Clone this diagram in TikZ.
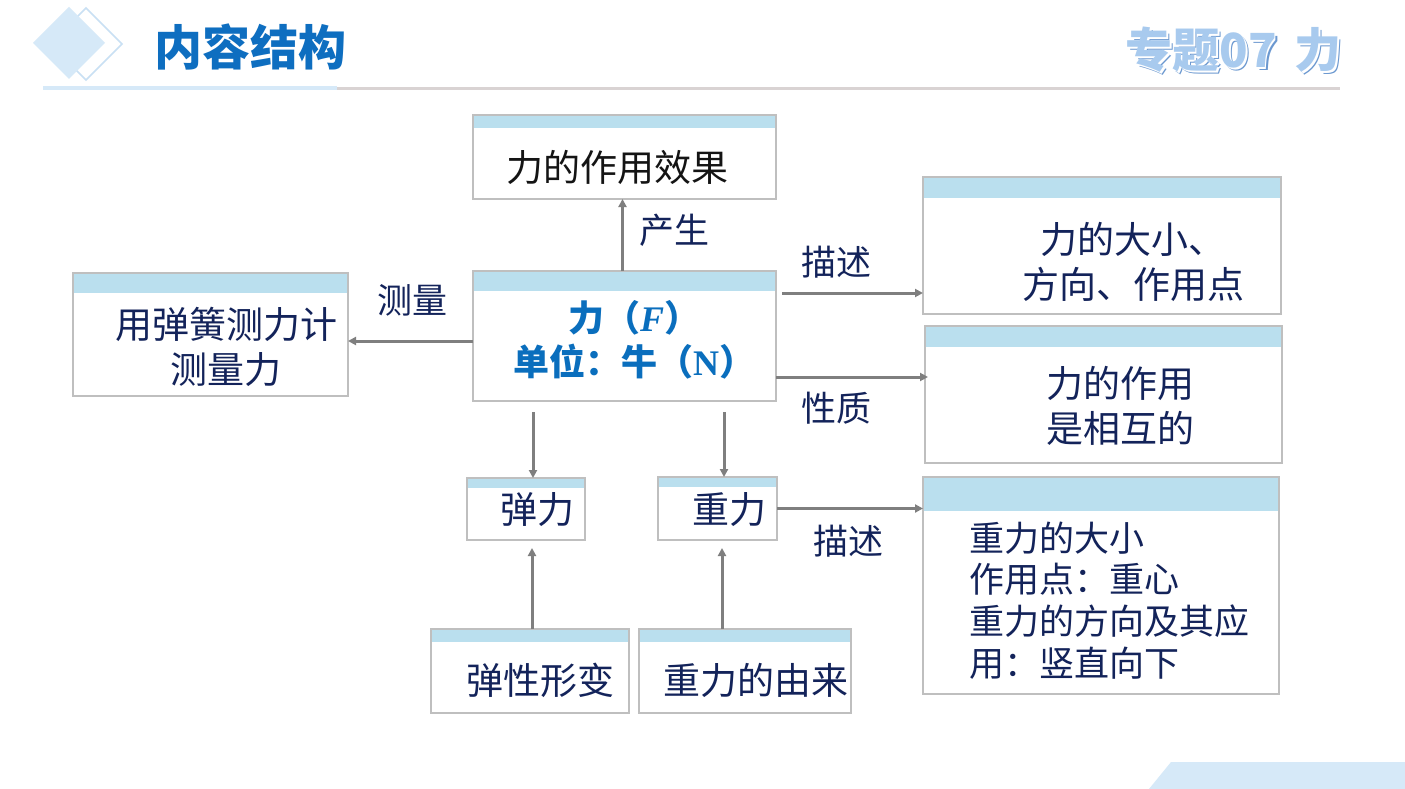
\documentclass[tikz,border=0pt]{standalone}
\usepackage{fontspec}
\setmainfont{Noto Sans CJK SC}
\newfontfamily\serifbf{Liberation Serif}
\usetikzlibrary{arrows.meta,calc}
\definecolor{navy}{HTML}{13235A}
\definecolor{hdr}{HTML}{BADFEE}
\definecolor{bord}{HTML}{BFBFBF}
\definecolor{arrg}{HTML}{7F7F7F}
\definecolor{titleblue}{HTML}{0E6EC0}
\definecolor{lightdeco}{HTML}{D6E9F8}
\definecolor{decoline}{HTML}{C9E0F4}
\definecolor{grayline}{HTML}{D9D3D3}
\definecolor{subblue}{HTML}{A8CAEE}
\definecolor{subshadow}{HTML}{6B98D0}
\definecolor{boldblue}{HTML}{0A6EBD}
\begin{document}
\begin{tikzpicture}[x=1pt,y=-1pt,
  card/.style n args={3}{draw=bord, line width=2.2pt, minimum width=#1pt, minimum height=#2pt,
    inner sep=0pt, outer sep=0pt,
    path picture={\fill[hdr] (path picture bounding box.north west) rectangle ([yshift=-#3pt]path picture bounding box.north east);}},
  txt/.style={text=navy, inner sep=0pt, align=center, font=\fontsize{37pt}{45pt}\selectfont},
  lbl/.style={text=navy, inner sep=0pt, font=\fontsize{35pt}{42pt}\selectfont},
  arr/.style={draw=arrg, line width=3pt, -{Triangle[length=8pt,width=8pt]}},
  sub/.style={inner sep=0pt, font=\fontsize{47pt}{50pt}\selectfont\bfseries}
]
\useasboundingbox (0,0) rectangle (1405,789);
\fill[white] (0,0) rectangle (1405,789);

% header decoration
\draw[decoline, line width=1.5pt] (50,44) -- (86,8) -- (122,44) -- (86,80) -- cycle;
\fill[lightdeco] (33,43) -- (69,7) -- (105,43) -- (69,79) -- cycle;
\node[inner sep=0pt, text=titleblue, font=\fontsize{48pt}{50pt}\selectfont\bfseries] (title) at (250,47) {内容结构};
\fill[lightdeco] (43,86) rectangle (337,90.5);
\fill[grayline] (337,87) rectangle (1340,90);
\node[sub, text=subshadow, anchor=east] (subS) at (1345,53) {专题07\hspace{18pt}力};
\node[sub, text=white, anchor=east] (subW) at (1343.5,51.5) {专题07\hspace{18pt}力};
\node[sub, text=subblue, anchor=east] (subM) at (1342,50) {专题07\hspace{18pt}力};
\fill[lightdeco] (1149,789) -- (1171,762) -- (1405,762) -- (1405,789) -- cycle;

% boxes
\node[card={303}{84}{13}]  (top) at (624.5,157) {};
\node[card={303}{130}{20}] (c)   at (624.5,336) {};
\node[card={275}{123}{20}] (L)   at (210.5,334.5) {};
\node[card={358}{137}{21}] (r1)  at (1102,245.5) {};
\node[card={357}{137}{21}] (r2)  at (1103.5,394.5) {};
\node[card={356}{217}{34}] (r3)  at (1101,585.5) {};
\node[card={118}{62}{10}]  (e)   at (526,509) {};
\node[card={119}{63}{10}]  (g)   at (717.5,508.5) {};
\node[card={198}{84}{13}]  (ed)  at (530,671) {};
\node[card={212}{84}{13}]  (go)  at (745,671) {};

% texts
\node[txt, text=black!92] (ttop) at (617,167) {力的作用效果};
\node[txt, text=boldblue, font=\fontsize{36pt}{44pt}\selectfont\bfseries] (tc) at (634,340)
  {力（{\serifbf\bfseries\itshape F}）\\单位：牛（{\serifbf\bfseries N}）};
\node[txt] (tL) at (226,347) {用弹簧测力计\\测量力};
\node[txt] (tr1) at (1133,261.5) {力的大小、\\方向、作用点};
\node[txt] (tr2) at (1120,406) {力的作用\\是相互的};
\node[txt, align=left, anchor=west, font=\fontsize{35pt}{41.7pt}\selectfont] (tr3) at (969,600.5)
  {重力的大小\\作用点：重心\\重力的方向及其应\\用：竖直向下};
\node[txt] (te)  at (537,510) {弹力};
\node[txt] (tg)  at (729,510) {重力};
\node[txt] (ted) at (540,680) {弹性形变};
\node[txt] (tgo) at (756,680) {重力的由来};

% labels
\node[lbl] (lchan) at (674,230) {产生};
\node[lbl] (lmeas) at (412,300) {测量};
\node[lbl] (ldesc1) at (836,262) {描述};
\node[lbl] (lprop) at (836,408) {性质};
\node[lbl] (ldesc2) at (848,541) {描述};

% connectors
\draw[arr] ([xshift=-2pt]c.north) -- ([xshift=-2pt]top.south);
\draw[arr] ([yshift=-5pt]c.west) -- ([yshift=-5pt]c.west -| L.east);
\draw[arr] ([shift={(6pt,43pt)}]c.east) -- ([yshift=43pt]c.east -| r1.west);
\draw[arr] ([yshift=-41pt]c.east) -- ([shift={(3pt,-41pt)}]c.east -| r2.west);
\draw[arr] (g.east) -- (g.east -| r3.west);
\path ([xshift=7pt]e.north) coordinate (e1) ([xshift=6.5pt]g.north) coordinate (g1);
\draw[arr] ([yshift=-11pt]c.south -| e1) -- (e1);
\draw[arr] ([yshift=-11pt]c.south -| g1) -- (g1);
\path ([xshift=2pt]ed.north) coordinate (ed1) ([xshift=-23pt]go.north) coordinate (go1);
\draw[arr] (ed1) -- ([yshift=-8pt]e.south -| ed1);
\draw[arr] (go1) -- ([yshift=-8pt]g.south -| go1);
\end{tikzpicture}
\end{document}
